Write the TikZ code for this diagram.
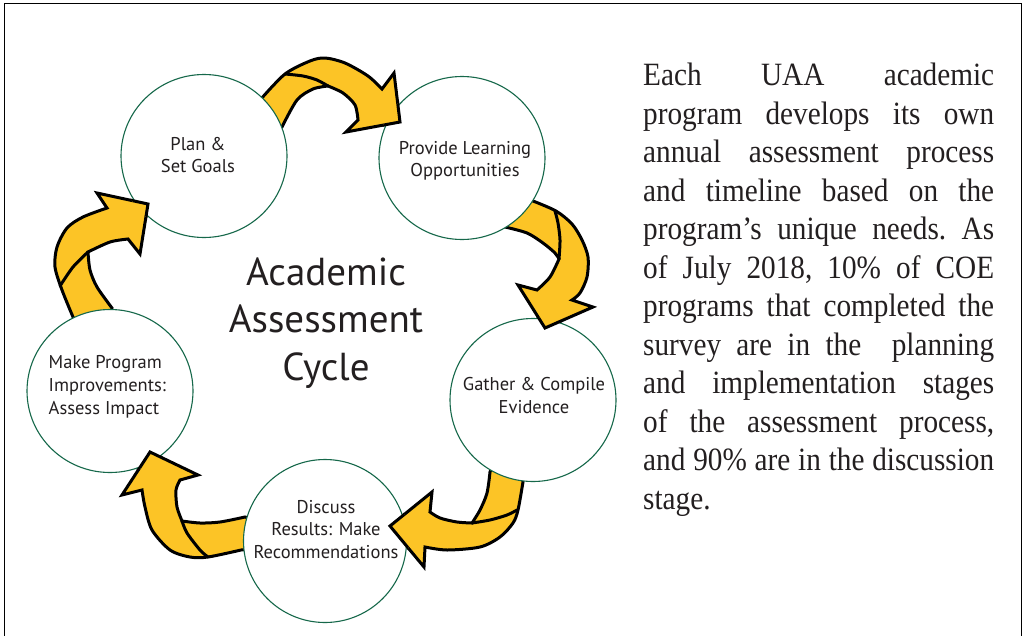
\documentclass[tikz,border=0pt]{standalone}
\usepackage{fontspec}
\usetikzlibrary{shapes.geometric}
\setmainfont{Liberation Serif}
\newfontfamily\bodyserif{Liberation Serif}[FakeStretch=0.9]
\newfontfamily\labelsans{PT Sans}

\definecolor{ribbon}{RGB}{252,196,38}
\definecolor{ringgreen}{RGB}{22,104,74}
\definecolor{ink}{RGB}{35,31,32}

\newcommand\stackc[1]{\begin{tabular}[t]{@{}c@{}}#1\end{tabular}}
\newcommand\stackl[1]{\begin{tabular}[t]{@{}l@{}}#1\end{tabular}}

\tikzset{
  band/.style={fill=ribbon, draw=black, line width=3pt, line join=miter, miter limit=10},
  fold/.style={draw=black, line width=3pt, line cap=round},
  stage/.style={shape=ellipse, draw=ringgreen, line width=1.1pt, fill=white,
    inner sep=0pt, minimum width=166pt, minimum height=163pt},
  stagetext/.style={font=\labelsans\fontsize{18.5}{23}\selectfont, text=ink, inner sep=0pt},
  titletext/.style={font=\labelsans\fontsize{39}{47.5}\selectfont, text=ink, inner sep=0pt},
}

% the five curved ribbon arrows of the cycle
\newcommand\ribbonOne{%
  \path[band] (262,140) -- (248,112)
    -- plot[smooth] coordinates {(261,99) (285,74) (310,61) (325,58) (345,63) (368,76) (382,89)}
    -- (394,73) -- (400,122) -- (346,132)
    -- plot[smooth] coordinates {(358,120) (355,105) (343,93) (328,86)}
    -- plot[smooth] coordinates {(328,86) (313,89) (297,100) (282,127)}
    -- cycle;
  \draw[fold] plot[smooth] coordinates {(285,74) (303,76) (317,80) (328,86)};
}
\newcommand\ribbonTwo{%
  \path[band] (490,212) -- (515,190)
    -- plot[smooth] coordinates {(533,201) (556,211) (572,224) (582,240) (588,257) (587,277) (580,293) (572,300)}
    -- (593,307) -- (545,328) -- (518,285)
    -- plot[smooth] coordinates {(537,290) (550,277) (559,259)}
    -- plot[smooth] coordinates {(559,259) (555,253) (543,243) (527,233) (505,227)}
    -- cycle;
  \draw[fold] plot[smooth] coordinates {(559,259) (560,240) (558,223) (555,211)};
}
\newcommand\ribbonThree{%
  \path[band] (496,455) -- (521,462)
    -- plot[smooth] coordinates {(523,482) (518,510) (513,523) (500,537) (480,547) (447,550) (425,547)}
    -- (424,567) -- (390,526) -- (432,492)
    -- plot[smooth] coordinates {(430,512) (440,518) (457,522) (472,523)}
    -- plot[smooth] coordinates {(472,523) (480,510) (487,493) (490,472)}
    -- cycle;
  \draw[fold] plot[smooth] coordinates {(472,523) (490,520) (507,515) (517,510)};
}
\newcommand\ribbonFour{%
  \path[band] (265,523) -- (261,548)
    -- plot[smooth] coordinates {(241,550) (208,557) (190,557) (170,550) (152,530) (145,507) (142,490)}
    -- (122,495) -- (150,452) -- (198,475)
    -- plot[smooth] coordinates {(180,480) (176,490) (177,507) (182,521)}
    -- plot[smooth] coordinates {(182,521) (200,523) (220,522) (245,517)}
    -- cycle;
  \draw[fold] plot[smooth] coordinates {(182,521) (187,533) (200,550) (208,557)};
}
\newcommand\ribbonFive{%
  \path[band] (111,328) -- (82,335)
    -- plot[smooth] coordinates {(73,317) (62,290) (55,267) (57,247) (67,228) (83,217) (107,208)}
    -- (97,193) -- (148,204) -- (140,254)
    -- plot[smooth] coordinates {(128,239) (110,242) (88,252)}
    -- plot[smooth] coordinates {(88,252) (90,270) (97,287) (112,308)}
    -- cycle;
  \draw[fold] plot[smooth] coordinates {(88,252) (73,267) (60,286)};
}

\begin{document}
\begin{tikzpicture}[x=1pt, y=-1pt]
  \useasboundingbox (0,0) rectangle (1028,635);
  \clip (0,0) rectangle (1028,635);
  \fill[white] (0,0) rectangle (1028,635);
  \draw[line width=1.3pt, black] (4.5,3.5) rectangle (1021.5,660);

  % ribbons first, so the source stages cover their tails
  \ribbonOne \ribbonTwo \ribbonThree \ribbonFour \ribbonFive

  % the five stages
  \node[stage] (plan) at (204,156) {};
  \node[stage] (prov) at (462,158) {};
  \node[stage] (gath) at (533,400) {};
  \node[stage, minimum width=163pt] (disc) at (325,541) {};
  \node[stage] (impr) at (110,391) {};

  % arrow heads lie over the stage they point to
  \begin{scope}\clip (prov.center) ellipse [x radius=85.5pt, y radius=83pt]; \ribbonOne \end{scope}
  \begin{scope}\clip (gath.center) ellipse [x radius=85.5pt, y radius=83pt]; \ribbonTwo \end{scope}
  \begin{scope}\clip (disc.center) ellipse [x radius=84pt, y radius=83pt]; \ribbonThree \end{scope}
  \begin{scope}\clip (impr.center) ellipse [x radius=85.5pt, y radius=83pt]; \ribbonFour \end{scope}
  \begin{scope}\clip (plan.center) ellipse [x radius=85.5pt, y radius=83pt]; \ribbonFive \end{scope}

  % stage labels
  \node[stagetext, anchor=base, font=\labelsans\fontsize{18.5}{22}\selectfont] (plan-text) at (198,150) {\stackc{Plan \&\\Set Goals}};
  \node[stagetext, anchor=base, font=\labelsans\fontsize{18.5}{22.4}\selectfont] (prov-text) at (465,154.3) {\stackc{Provide Learning\\Opportunities}};
  \node[stagetext, anchor=base] (gath-text) at (534,390.7) {\stackc{Gather \& Compile\\Evidence}};
  \node[stagetext, anchor=base, font=\labelsans\fontsize{18.5}{22.5}\selectfont] (disc-text) at (326,513.3) {\stackc{Discuss\\Results: Make\\Recommendations}};
  \node[stagetext, anchor=base west] (impr-text) at (48.5,368.3) {\stackl{Make Program\\Improvements:\\Assess Impact}};

  % centre title
  \node[titletext, anchor=base] (title) at (326,285) {\stackc{Academic\\Assessment\\Cycle}};

  % side paragraph
  \node[anchor=base west, inner sep=0pt, text=ink] (blurb) at (643,85.7) {\parbox[t]{351pt}{%
    \bodyserif\fontsize{32.5}{38.5}\selectfont\frenchspacing
    \tolerance=10000 \hbadness=10000 \hyphenpenalty=10000 \exhyphenpenalty=10000
    Each UAA academic\linebreak
    program develops its own\linebreak
    annual assessment process\linebreak
    and timeline based on the\linebreak
    program’s unique needs. As\linebreak
    of July 2018, 10\% of COE\linebreak
    programs that completed the\linebreak
    survey are in the\ \ planning\linebreak
    and implementation stages\linebreak
    of the assessment process,\linebreak
    and 90\% are in the discussion\linebreak
    stage.}};
\end{tikzpicture}
\end{document}
